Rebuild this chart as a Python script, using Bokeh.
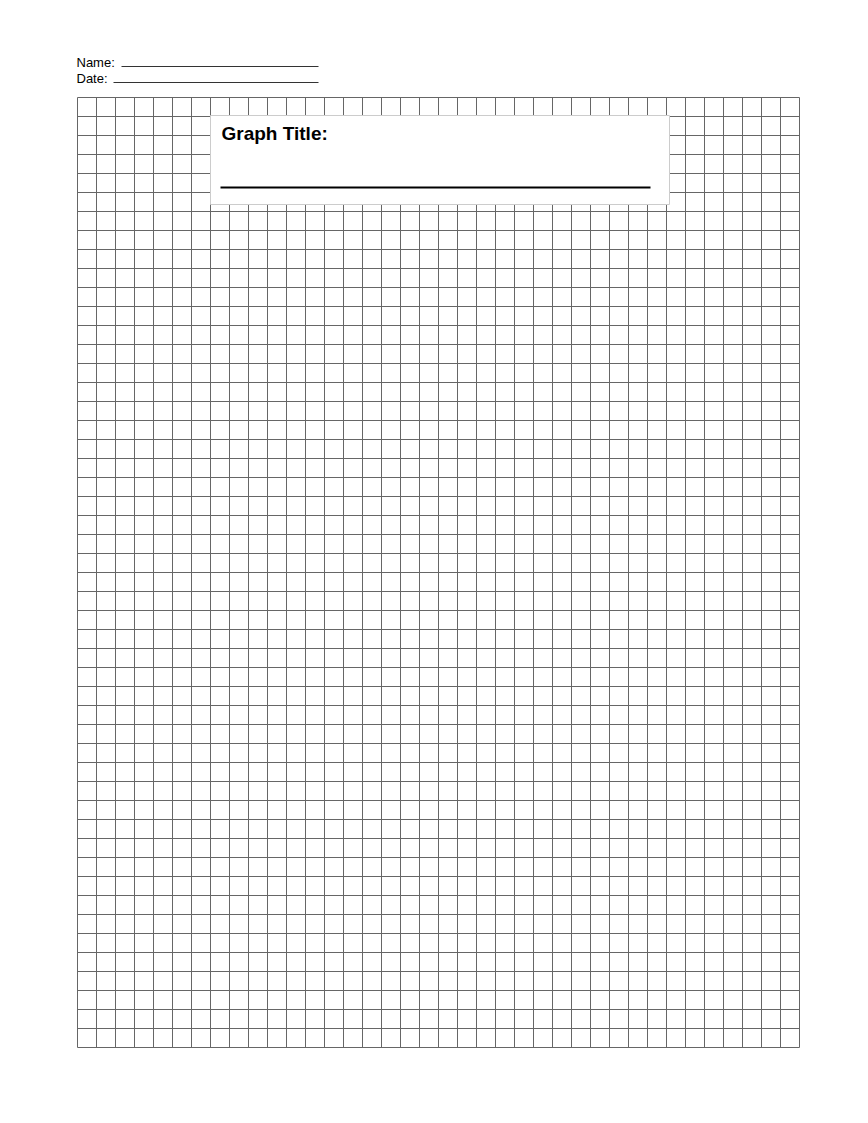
#Graph paper worksheet with a title box

#Import required packages

from bokeh.plotting import figure
from bokeh.models import Range1d
from bokeh.core.properties import value
from bokeh.embed import file_html
from bokeh.resources import INLINE

#Grid layout (page pixels)

grid_cols = 38
grid_rows = 50
cell = 19
grid_left = 77
grid_top = 97

#Header labels and their blank lines

label_text = ['Name:', 'Date:']
label_x = [76, 76]
label_mid_y = [61.5, 77.5]
blank_y = [66, 82]
blank_x0 = [121, 113]
blank_x1 = [318, 318]

#Title box

box_left, box_right = 210, 669
box_top, box_bottom = 115, 204
title_text = ['Graph Title:']
title_mid_y = 132.5
title_rule_y = 187

#Create the figure, data coordinates equal page pixels

plot = figure(width=852, height=1107, output_backend="svg", toolbar_location=None,
              x_range=Range1d(0, 852), y_range=Range1d(1107, 0), min_border=0)
plot.axis.visible = False
plot.grid.visible = False
plot.outline_line_color = None

#Grid lines

grid_right = grid_left + grid_cols * cell
grid_bottom = grid_top + grid_rows * cell
vx = [grid_left + i * cell for i in range(grid_cols + 1)]
hy = [grid_top + j * cell for j in range(grid_rows + 1)]

plot.segment(x0=vx, y0=[grid_top] * len(vx), x1=vx, y1=[grid_bottom] * len(vx),
             line_color='#666666', line_width=1)
plot.segment(x0=[grid_left] * len(hy), y0=hy, x1=[grid_right] * len(hy), y1=hy,
             line_color='#666666', line_width=1)

#Title box on top of the grid

plot.quad(left=[box_left], right=[box_right], top=[box_top], bottom=[box_bottom],
          fill_color='white', line_color='#cccccc', line_width=1)
plot.text(x=[box_left + 11], y=[title_mid_y], text=title_text,
          text_font=value('Liberation Sans'), text_font_style='bold',
          text_font_size='19px', text_color='black', text_baseline='middle')
plot.segment(x0=[box_left + 10], y0=[title_rule_y], x1=[650], y1=[title_rule_y],
             line_color='black', line_width=2)

#Name and date

plot.text(x=label_x, y=label_mid_y, text=label_text, text_font=value('Liberation Sans'),
          text_font_size='13px', text_color='black', text_baseline='middle')
plot.segment(x0=blank_x0, y0=blank_y, x1=blank_x1, y1=blank_y,
             line_color='#333333', line_width=1)

#Output the plot

open("out.html", "w").write(file_html(plot, INLINE))
